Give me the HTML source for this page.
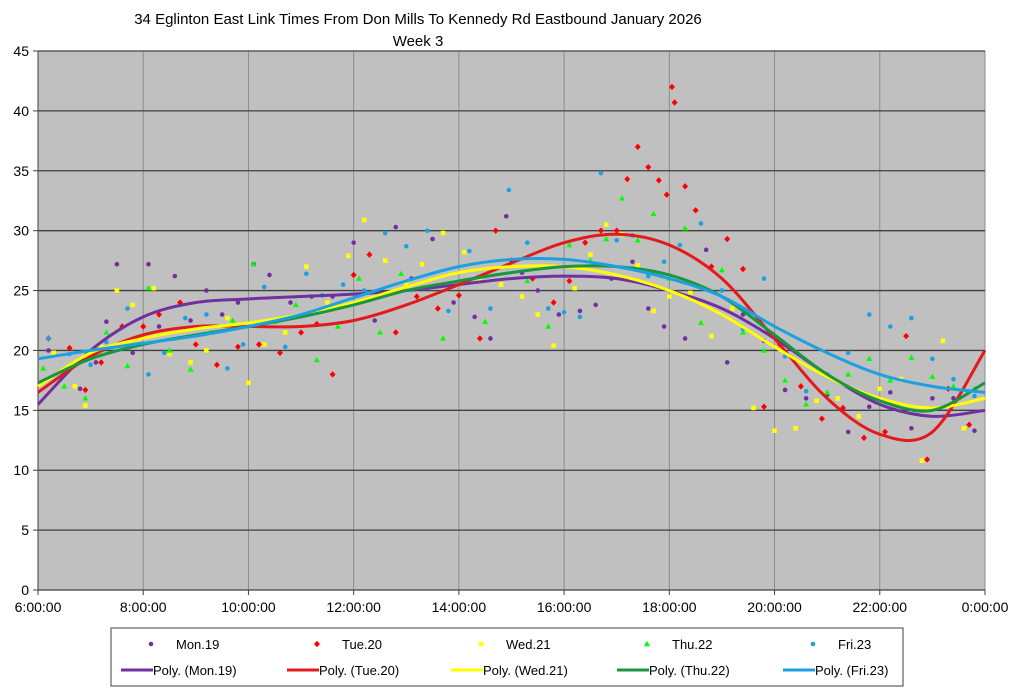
<!DOCTYPE html>
<html><head><meta charset="utf-8"><style>
body{margin:0;background:#fff;width:1024px;height:693px;overflow:hidden}
svg text{font-family:"Liberation Sans",Arial,sans-serif}
</style></head><body>
<svg id="c" width="1024" height="693"></svg>
<script>
const xTicks=["6:00:00","8:00:00","10:00:00","12:00:00","14:00:00","16:00:00","18:00:00","20:00:00","22:00:00","0:00:00"];
const yTicks=[0,5,10,15,20,25,30,35,40,45];
const trendHours=[6,7,8,9,10,11,12,13,14,15,16,17,18,19,20,21,22,23,24];
const monTrend=[15.5,20,22.8,24,24.3,24.5,24.7,25,25.5,26,26.2,26,25,23.5,21,18,15.5,14.5,15];
const tueTrend=[16.5,19.5,21.3,22,22,22,22.5,23.8,25.5,27.3,29,29.7,28.8,26,21,16,13,13.2,20];
const wedTrend=[17,19.8,21,21.8,22.3,23,24,25.3,26.5,27,27,26.3,25,23,20.3,17.8,16,15.2,16];
const thuTrend=[17.3,19.3,20.5,21.3,22,22.8,23.8,25,25.8,26.5,27,27,26.3,24.5,21.3,18,15.8,15,17.3];
const friTrend=[19.3,20,20.6,21.2,22,23,24.4,25.8,27,27.6,27.6,27,26,24.5,22,19.8,18,17,16.5];
const monX=[6.2,6.5,6.8,7.1,7.3,7.5,7.8,8.1,8.3,8.6,8.9,9.2,9.5,9.8,10.1,10.4,10.8,11.2,11.6,12,12.4,12.8,13.1,13.5,13.9,14.3,14.6,14.9,15.2,15.5,15.9,16.3,16.6,16.9,17.3,17.6,17.9,18.3,18.7,19.1,19.4,19.8,20.2,20.6,21,21.4,21.8,22.2,22.6,23,23.4,23.8];
const monY=[20,18,16.8,19,22.4,27.2,19.8,27.2,22,26.2,22.5,25,23,24,27.2,26.3,24,24.5,24.5,29,22.5,30.3,26,29.3,24,22.8,21,31.2,26.5,25,23,23.3,23.8,26,27.4,23.5,22,21,28.4,19,23,20.8,16.7,16,16.3,13.2,15.3,16.5,13.5,16,16,13.3];
const tueX=[6.2,6.6,6.9,7.2,7.6,8,8.3,8.7,9,9.4,9.8,10.2,10.6,11,11.3,11.6,12,12.3,12.8,13.2,13.6,14,14.4,14.7,15,15.4,15.8,16.1,16.4,16.7,17,17.2,17.4,17.6,17.8,17.95,18.05,18.1,18.3,18.5,18.8,19.1,19.4,19.8,20.1,20.5,20.9,21.3,21.7,22.1,22.5,22.9,23.3,23.7];
const tueY=[21,20.2,16.7,19,22,22,23,24,20.5,18.8,20.3,20.5,19.8,21.5,22.2,18,26.3,28,21.5,24.5,23.5,24.6,21,30,27.5,26,24,25.8,29,30,30,34.3,37,35.3,34.2,33,42,40.7,33.7,31.7,27,29.3,26.8,15.3,20.5,17,14.3,15.2,12.7,13.2,21.2,10.9,16.8,13.8];
const wedX=[6.3,6.7,6.9,7.2,7.5,7.8,8.2,8.5,8.9,9.2,9.6,10,10.3,10.7,11.1,11.5,11.9,12.2,12.6,13,13.3,13.7,14.1,14.4,14.8,15.2,15.5,15.8,16.2,16.5,16.8,17.1,17.4,17.7,18,18.4,18.8,19.2,19.6,20,20.4,20.8,21.2,21.6,22,22.4,22.8,23.2,23.6];
const wedY=[19.8,17,15.4,20.3,25,23.8,25.2,19.7,19,20,22.7,17.3,20.5,21.5,27,24,27.9,30.9,27.5,25.5,27.2,29.8,28.2,26,25.5,24.5,23,20.4,25.2,28,30.5,29.7,27.1,23.3,24.5,24.8,21.2,23.5,15.2,13.3,13.5,15.8,16,14.5,16.8,17.6,10.8,20.8,13.5];
const thuX=[6.1,6.5,6.9,7.3,7.7,8.1,8.5,8.9,9.3,9.7,10.1,10.5,10.9,11.3,11.7,12.1,12.5,12.9,13.3,13.7,14.1,14.5,14.9,15.3,15.7,16.1,16.5,16.8,17.1,17.4,17.7,18,18.3,18.6,19,19.4,19.8,20.2,20.6,21,21.4,21.8,22.2,22.6,23,23.4,23.8];
const thuY=[18.5,17,16,21.5,18.7,25.2,20,18.4,21.5,22.5,27.2,22.4,23.8,19.2,22,26,21.5,26.4,25.2,21,25.8,22.4,27,25.8,22,28.8,27.5,29.3,32.7,29.2,31.4,26,30.2,22.3,26.7,21.5,20,17.5,15.5,16.5,18,19.3,17.5,19.4,17.8,17,16.8];
const friX=[6.2,6.6,7,7.3,7.7,8.1,8.4,8.8,9.2,9.6,9.9,10.3,10.7,11.1,11.4,11.8,12.2,12.6,13,13.4,13.8,14.2,14.6,14.95,15.3,15.7,16,16.3,16.7,17,17.3,17.6,17.9,18.2,18.6,19,19.4,19.8,20.2,20.6,21,21.4,21.8,22.2,22.6,23,23.4,23.8];
const friY=[21,19.7,18.8,20.7,23.5,18,19.8,22.7,23,18.5,20.5,25.3,20.3,26.4,24.6,25.5,25,29.8,28.7,30,23.3,28.3,23.5,33.4,29,23.5,23.2,22.8,34.8,29.2,29.6,26.2,27.4,28.8,30.6,25,21.8,26,19.5,16.6,18,19.8,23,22,22.7,19.3,17.6,16.2];
const series=[
 {n:"mon",x:monX,y:monY,t:monTrend,c:"#7030a0",lc:"#7030a0",m:"circle",label:"Mon.19"},
 {n:"tue",x:tueX,y:tueY,t:tueTrend,c:"#ff0000",lc:"#e31a1c",m:"diamond",label:"Tue.20"},
 {n:"wed",x:wedX,y:wedY,t:wedTrend,c:"#ffff00",lc:"#ffff00",m:"square",label:"Wed.21"},
 {n:"thu",x:thuX,y:thuY,t:thuTrend,c:"#00ff00",lc:"#1a9641",m:"triangle",label:"Thu.22"},
 {n:"fri",x:friX,y:friY,t:friTrend,c:"#1ba1e2",lc:"#1ba1e2",m:"circle",label:"Fri.23"}];
const L=38,R=985,T=51,B=590;
const sx=h=>L+(h-6)/18*(R-L);
const sy=v=>B-v/45*(B-T);
const NS="http://www.w3.org/2000/svg";
const svg=document.getElementById('c');
function el(tag,attrs,parent){const e=document.createElementNS(NS,tag);for(const k in attrs)e.setAttribute(k,attrs[k]);(parent||svg).appendChild(e);return e;}
const plot=el('rect',{x:L,y:T,width:R-L,height:B-T,fill:'#c0c0c0'});


xTicks.forEach((t,i)=>{const x=sx(6+i*2);
 const g=el('line',{x1:x,x2:x,y1:T,y2:B,stroke:'#8c8c8c','stroke-width':1});
 
 
 el('line',{x1:x,x2:x,y1:B,y2:B+5,stroke:'#404040'});
 const tx=el('text',{x:x,y:B+22,'text-anchor':'middle','font-size':14,fill:'#000'});tx.textContent=t;
 
 });
yTicks.forEach(v=>{const y=sy(v);
 const g=el('line',{x1:L,x2:R,y1:y,y2:y,stroke:'#404040','stroke-width':1.3});
 
 
 el('line',{x1:L-5,x2:L,y1:y,y2:y,stroke:'#404040'});
 const tx=el('text',{x:L-9,y:y+5,'text-anchor':'end','font-size':14,fill:'#000'});tx.textContent=v;
 
 });
el('line',{x1:L,x2:L,y1:T,y2:B,stroke:'#404040'});
function marker(m,x,y,c,parent){
 if(m==="circle")return el('circle',{cx:x,cy:y,r:2.3,fill:c},parent);
 if(m==="square")return el('rect',{x:x-2.3,y:y-2.3,width:4.6,height:4.6,fill:c},parent);
 if(m==="diamond")return el('polygon',{points:`${x},${y-3.2} ${x+3},${y} ${x},${y+3.2} ${x-3},${y}`,fill:c},parent);
 return el('polygon',{points:`${x},${y-3.2} ${x+3},${y+2.2} ${x-3},${y+2.2}`,fill:c},parent);}
series.forEach(s=>{const g=el('g',{});
 
 
 s.x.forEach((h,i)=>{const p=marker(s.m,sx(h),sy(s.y[i]),s.c,g);
  
  });});
function smooth(xs,ys){let d=`M${sx(xs[0])},${sy(ys[0])}`;
 for(let i=0;i<xs.length-1;i++){const x0=sx(xs[Math.max(i-1,0)]),y0=sy(ys[Math.max(i-1,0)]),x1=sx(xs[i]),y1=sy(ys[i]),x2=sx(xs[i+1]),y2=sy(ys[i+1]),x3=sx(xs[Math.min(i+2,xs.length-1)]),y3=sy(ys[Math.min(i+2,xs.length-1)]);
  d+=` C${x1+(x2-x0)/6},${y1+(y2-y0)/6} ${x2-(x3-x1)/6},${y2-(y3-y1)/6} ${x2},${y2}`;}
 return d;}
series.forEach(s=>{const p=el('path',{d:smooth(trendHours,s.t),fill:'none',stroke:s.lc,'stroke-width':3});
 
 });
const t1=el('text',{x:418,y:24,'text-anchor':'middle','font-size':15,fill:'#000'});t1.textContent="34 Eglinton East Link Times From Don Mills To Kennedy Rd Eastbound January 2026";


const t2=el('text',{x:418,y:46,'text-anchor':'middle','font-size':15,fill:'#000'});t2.textContent="Week 3";


const lg=el('g',{});


el('rect',{x:111,y:628,width:792,height:58,fill:'#fff',stroke:'#404040'},lg);
const lx=[131,297,461,627,793];
series.forEach((s,i)=>{
 const e1=el('g',{},lg);
 
 
 marker(s.m,lx[i]+20,644,s.c,e1);
 const a=el('text',{x:lx[i]+45,y:649,'font-size':13},e1);a.textContent=s.label;
 const e2=el('g',{},lg);
 
 
 el('line',{x1:lx[i]-10,x2:lx[i]+22,y1:670,y2:670,stroke:s.lc,'stroke-width':3},e2);
 const b=el('text',{x:lx[i]+22,y:675,'font-size':13},e2);b.textContent="Poly. ("+s.label+")";});
</script>
</body></html>
